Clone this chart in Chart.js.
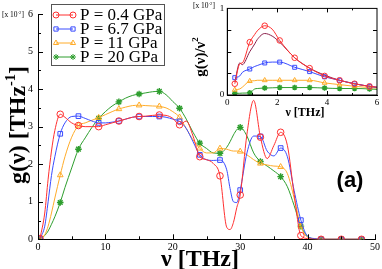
<!DOCTYPE html>
<html>
<head>
<meta charset="utf-8">
<script src="https://cdn.jsdelivr.net/npm/chart.js@4"></script>
<style>
  body { margin: 0; background: #fff; }
  #wrap { position: relative; width: 382px; height: 269px; overflow: hidden; font-family: "Liberation Serif", "Times New Roman", serif; }
  canvas { position: absolute; top: 0; }
  .lbl { position: absolute; white-space: nowrap; line-height: 1; color: #000; }
  .lbl sup { font-size: 0.6em; vertical-align: 0.7em; line-height: 0; }
  #ytitle { left: 17px; top: 125px; font-weight: bold; font-size: 24px; transform: translate(-50%, -50%) rotate(-90deg); }
  #xtitle { left: 200px; top: 246px; font-weight: bold; font-size: 24px; transform: translateX(-50%); }
  #tag { left: 350px; top: 180px; font-family: "Liberation Sans", Arial, sans-serif; font-weight: bold; font-size: 22px; transform: translate(-50%, -50%); }
  #mainScale { left: 2px; top: 11px; font-size: 7.5px; }
  #insetScale { left: 193px; top: 2px; font-size: 7.5px; }
  #ixtitle { left: 305px; top: 112px; font-weight: bold; font-size: 12px; transform: translate(-50%, -50%); }
  #iytitle { left: 200px; top: 57px; font-weight: bold; font-size: 15px; transform: translate(-50%, -50%) rotate(-90deg); }
</style>
</head>
<body>
<div id="wrap">
  <canvas id="mainChart" width="382" height="269" style="left:0"></canvas>
  <canvas id="insetChart" width="192" height="125" style="left:190px"></canvas>
  <div class="lbl" id="mainScale">[x 10<sup>-2</sup>]</div>
  <div class="lbl" id="insetScale">[x 10<sup>-2</sup>]</div>
  <div class="lbl" id="ytitle">g(ν) [THz<sup>-1</sup>]</div>
  <div class="lbl" id="xtitle">ν [THz]</div>
  <div class="lbl" id="ixtitle">ν [THz]</div>
  <div class="lbl" id="iytitle">g(ν)/ν<sup>2</sup></div>
  <div class="lbl" id="tag">(a)</div>
</div>
<script>
// --- Main panel: g(v), frequency in THz, values in 1e-2 THz^-1 ---
const freq = [0.3, 1, 1.5, 2, 2.5, 3.3, 4, 5, 6, 7, 8, 9, 10, 11, 12, 13, 14, 15, 16, 17, 18, 19, 20,
  21, 22, 23, 24, 25, 26, 27, 28, 28.5, 29, 29.5, 30, 31, 32, 33, 34, 35, 36, 37, 38, 39, 40, 41, 42, 45, 48];
const markFreq = [0.3, 3.3, 6, 9, 12, 15, 18, 21, 24, 27, 30, 33, 36, 39, 42, 45, 48];

const g04 = [0.02, 0.7, 1.6, 2.35, 2.9, 3.33, 3.25, 3.1, 3.03, 3.0, 3.0, 3.0, 3.05, 3.1, 3.15, 3.2, 3.25, 3.27, 3.28, 3.3, 3.31, 3.3, 3.22,
  3.05, 3.15, 2.75, 2.2, 2.12, 2.02, 1.69, 0.32, 0.26, 0.45, 0.85, 1.18, 2.8, 3.7, 2.72, 2.15, 2.5, 2.85, 2.5, 1.2, 0.1, 0.02, 0, 0, 0, 0];
const g67 = [0.02, 0.35, 1.0, 1.7, 2.2, 2.81, 3.1, 3.27, 3.28, 3.22, 3.15, 3.1, 3.1, 3.12, 3.15, 3.2, 3.25, 3.27, 3.27, 3.27, 3.27, 3.25, 3.2,
  3.14, 2.95, 2.6, 2.25, 2.12, 2.1, 2.11, 1.85, 1.35, 1.0, 0.98, 1.31, 2.3, 2.75, 2.74, 2.35, 2.22, 2.43, 2.2, 1.3, 0.51, 0.08, 0.02, 0, 0, 0];
const g11 = [0.0, 0.12, 0.35, 0.7, 1.1, 1.71, 2.2, 2.72, 3.03, 3.1, 3.17, 3.24, 3.32, 3.4, 3.47, 3.52, 3.56, 3.57, 3.56, 3.55, 3.54, 3.5, 3.4,
  3.25, 2.95, 2.65, 2.42, 2.3, 2.3, 2.42, 2.4, 2.37, 2.35, 2.35, 2.34, 2.25, 2.12, 2.02, 1.98, 1.95, 1.93, 1.75, 1.1, 0.35, 0.05, 0.01, 0, 0, 0];
const g20 = [0.0, 0.1, 0.22, 0.4, 0.6, 0.98, 1.38, 1.9, 2.4, 2.7, 2.98, 3.22, 3.4, 3.55, 3.66, 3.76, 3.83, 3.87, 3.9, 3.93, 3.94, 3.85, 3.67,
  3.49, 3.2, 2.85, 2.56, 2.42, 2.3, 2.29, 2.45, 2.6, 2.78, 2.92, 2.98, 2.75, 2.3, 2.07, 1.95, 1.82, 1.67, 1.4, 0.9, 0.35, 0.08, 0.01, 0, 0, 0];

// --- Inset: g(v)/v^2, frequency 0-6 THz ---
const lowFreq = [0.3, 0.5, 0.6, 0.9, 1.1, 1.2, 1.5, 1.8, 2.1, 2.7, 3.3, 3.9, 4.5, 5.1, 5.7, 6.0];
const lowMarks = [0.3, 0.9, 1.5, 2.1, 2.7, 3.3, 3.9, 4.5, 5.1, 5.7];
const r04 = [0.13, 0.36, 0.37, 0.61, 0.70, 0.74, 0.80, 0.76, 0.63, 0.43, 0.31, 0.22, 0.17, 0.13, 0.10, 0.09];
const rRef = [0.15, 0.37, 0.35, 0.50, 0.59, 0.64, 0.71, 0.68, 0.61, 0.43, 0.31, 0.23, 0.17, 0.13, 0.10, 0.09];
const r67 = [0.20, 0.22, 0.26, 0.30, 0.33, 0.34, 0.37, 0.38, 0.38, 0.32, 0.27, 0.21, 0.17, 0.13, 0.10, 0.086];
const r11 = [0.06, 0.07, 0.09, 0.16, 0.165, 0.17, 0.17, 0.17, 0.17, 0.17, 0.17, 0.14, 0.12, 0.10, 0.086, 0.08];
const r20 = [0.02, 0.02, 0.022, 0.026, 0.07, 0.075, 0.08, 0.083, 0.086, 0.086, 0.086, 0.08, 0.075, 0.075, 0.07, 0.065];

const labels = ['P = 0.4 GPa', 'P = 6.7 GPa', 'P = 11 GPa', 'P = 20 GPa'];
const colors = ['#ff3030', '#3a4cff', '#ffac2a', '#2e9e2e'];
const styles = ['circle', 'rect', 'triangle', 'star'];
const serif = '"Liberation Serif", "Times New Roman", serif';

function makeSeries(xs, ys, marks, i, radius) {
    return {
        label: labels[i],
        data: xs.map((x, k) => ({ x: x, y: ys[k] })),
        borderColor: colors[i],
        borderWidth: 1,
        backgroundColor: 'transparent',
        fill: false,
        pointStyle: styles[i],
        pointBorderColor: colors[i],
        pointBackgroundColor: 'transparent',
        pointBorderWidth: i === 3 ? 1.4 : 1,
        pointRadius: ctx => marks.includes(xs[ctx.dataIndex]) ? radius : 0,
        pointHoverRadius: 0,
        cubicInterpolationMode: 'monotone'
    };
}

// inward tick marks (and optional full frame)
const tickMarks = {
    id: 'tickMarks',
    afterDatasetsDraw(chart, args, o) {
        const { ctx, chartArea: a, scales: { x, y } } = chart;
        ctx.save();
        ctx.strokeStyle = '#000';
        ctx.lineWidth = 1;
        ctx.beginPath();
        const xt = (vals, len) => vals.forEach(v => {
            const px = Math.round(x.getPixelForValue(v)) + 0.5;
            ctx.moveTo(px, a.bottom); ctx.lineTo(px, a.bottom - len);
            if (o.box) { ctx.moveTo(px, a.top); ctx.lineTo(px, a.top + len); }
        });
        const yt = (vals, len) => vals.forEach(v => {
            const py = Math.round(y.getPixelForValue(v)) + 0.5;
            ctx.moveTo(a.left, py); ctx.lineTo(a.left + len, py);
            if (o.box) { ctx.moveTo(a.right, py); ctx.lineTo(a.right - len, py); }
        });
        xt(o.xMajor, o.major); xt(o.xMinor, o.minor);
        yt(o.yMajor, o.major); yt(o.yMinor, o.minor);
        ctx.stroke();
        if (o.box) ctx.strokeRect(a.left, a.top, a.width, a.height);
        ctx.restore();
    }
};

function drawMarker(ctx, style, x, y, r) {
    if (Chart.helpers && Chart.helpers.drawPoint) {
        Chart.helpers.drawPoint(ctx, { pointStyle: style, radius: r, borderWidth: 1, rotation: 0 }, x, y);
        return;
    }
    ctx.beginPath();
    ctx.arc(x, y, r, 0, Math.PI * 2);
    ctx.stroke();
}

// legend box inside the main plot
const boxLegend = {
    id: 'boxLegend',
    afterDraw(chart, args, o) {
        const ctx = chart.ctx;
        ctx.save();
        ctx.fillStyle = '#fff';
        ctx.fillRect(o.left, o.top, o.width, o.height);
        ctx.strokeStyle = '#555';
        ctx.lineWidth = 1;
        ctx.strokeRect(o.left + 0.5, o.top + 0.5, o.width, o.height);
        chart.data.datasets.forEach((ds, i) => {
            const yy = o.top + o.first + i * o.step;
            ctx.strokeStyle = ds.borderColor;
            ctx.fillStyle = 'rgba(0,0,0,0)';
            ctx.lineWidth = 1;
            ctx.beginPath();
            ctx.moveTo(o.left + 5, yy);
            ctx.lineTo(o.left + 22, yy);
            ctx.stroke();
            drawMarker(ctx, ds.pointStyle, o.left + 5, yy, 3);
            drawMarker(ctx, ds.pointStyle, o.left + 22, yy, 3);
            ctx.fillStyle = '#000';
            ctx.font = '17px ' + serif;
            ctx.textBaseline = 'middle';
            ctx.fillText(ds.label, o.left + 29, yy + 1);
        });
        ctx.restore();
    }
};

function axisOpts(min, max, step, size, pad, fit, cb) {
    return {
        type: 'linear', min: min, max: max,
        ticks: { stepSize: step, padding: pad, color: '#000', maxRotation: 0, font: { family: serif, size: size }, callback: cb },
        grid: { display: false, drawTicks: false },
        border: { display: true, color: '#000', width: 1 },
        afterFit: fit
    };
}

new Chart(document.getElementById('mainChart'), {
    type: 'line',
    data: {
        datasets: [g04, g67, g11, g20].map((ys, i) => makeSeries(freq, ys, markFreq, i, 3.3))
    },
    options: {
        responsive: false, animation: false, events: [],
        layout: { padding: { top: 14, right: 5, left: 0, bottom: 0 } },
        plugins: {
            legend: { display: false }, tooltip: { enabled: false },
            tickMarks: {
                major: 5, minor: 3, box: false,
                xMajor: [0, 10, 20, 30, 40, 50], xMinor: [5, 15, 25, 35, 45],
                yMajor: [0, 1, 2, 3, 4, 5, 6], yMinor: [0.5, 1.5, 2.5, 3.5, 4.5, 5.5]
            },
            boxLegend: { left: 51, top: 4, width: 113, height: 61, first: 11, step: 14 }
        },
        scales: {
            x: axisOpts(0, 50, 10, 10, 2, s => { s.height = 29.7; }),
            y: axisOpts(0, 6, 1, 10, 5, s => { s.width = 38; })
        }
    },
    plugins: [tickMarks, boxLegend]
});

const insetSets = [r04, r67, r11, r20].map((ys, i) => makeSeries(lowFreq, ys, lowMarks, i, 2.8));
insetSets.push({
    label: 'reference',
    data: lowFreq.map((x, k) => ({ x: x, y: rRef[k] })),
    borderColor: '#8a1f4a', borderWidth: 1, pointRadius: 0, pointHoverRadius: 0,
    fill: false, cubicInterpolationMode: 'monotone'
});

new Chart(document.getElementById('insetChart'), {
    type: 'line',
    data: { datasets: insetSets },
    options: {
        responsive: false, animation: false, events: [],
        layout: { padding: { top: 4.7, right: 5, left: 0, bottom: 0 } },
        plugins: {
            legend: { display: false }, tooltip: { enabled: false },
            tickMarks: {
                major: 4, minor: 2, box: true,
                xMajor: [2, 4], xMinor: [1, 3, 5],
                yMajor: [0.25, 0.5, 0.75], yMinor: []
            }
        },
        scales: {
            x: axisOpts(0, 6, 2, 9, 2, s => { s.height = 30; }),
            y: axisOpts(0, 1, 0.25, 9, 3, s => { s.width = 37.3; }, v => (v === 0 || v === 1) ? v : '')
        }
    },
    plugins: [tickMarks]
});
</script>
</body>
</html>
